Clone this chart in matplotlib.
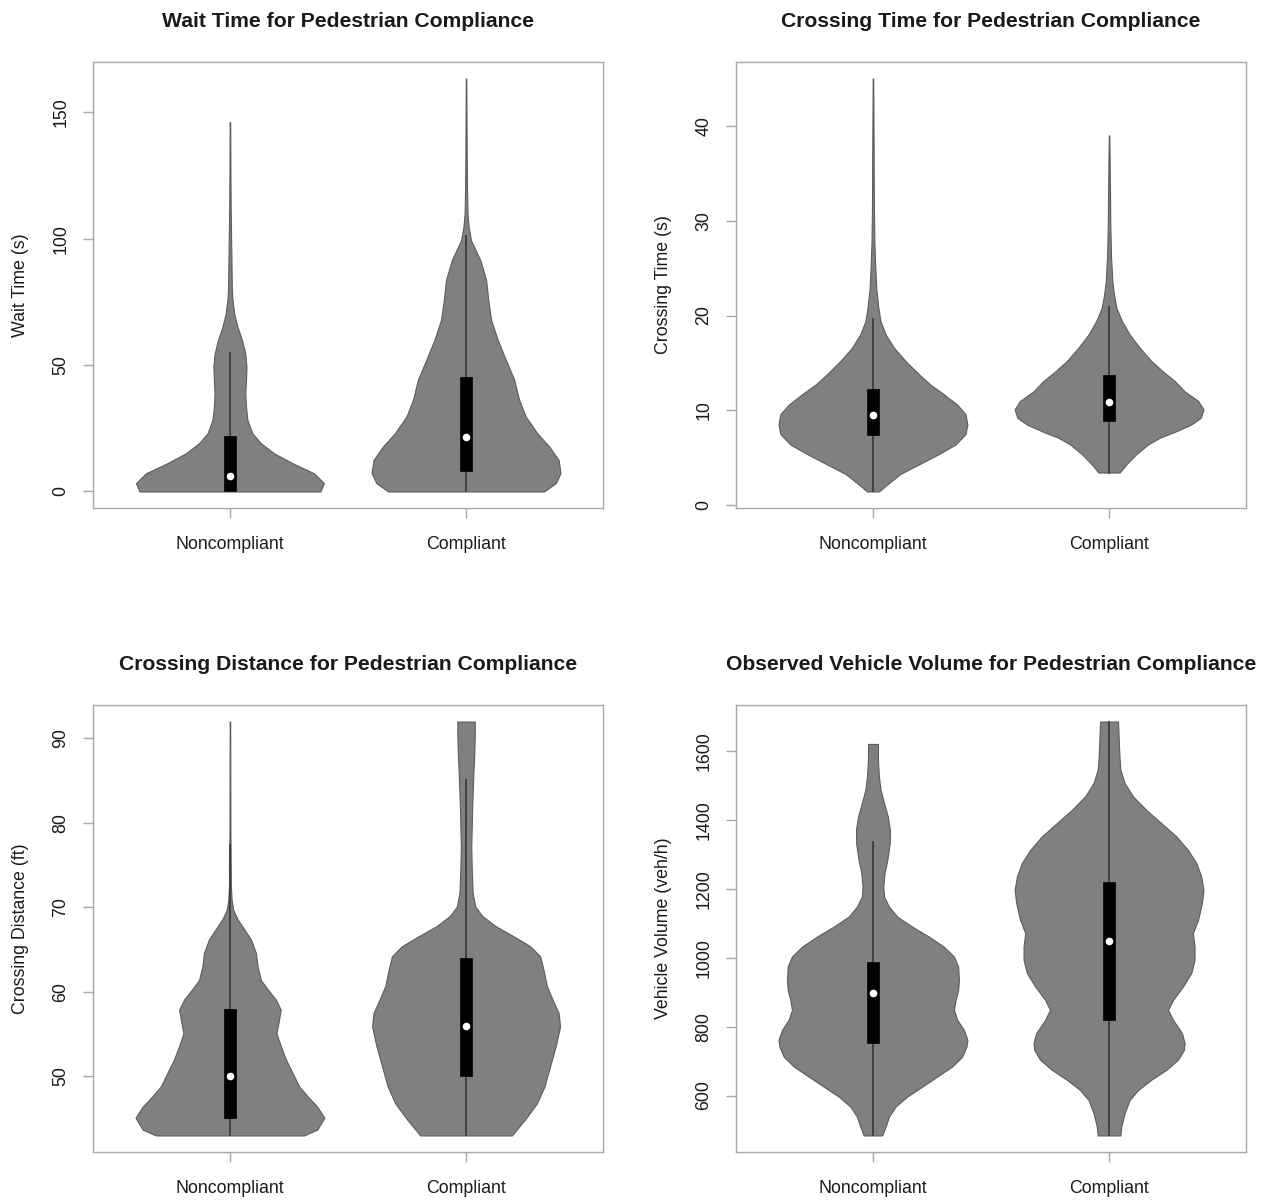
import matplotlib.pyplot as plt
import numpy as np

plt.rcParams['font.family'] = ['Liberation Sans', 'DejaVu Sans']

groups = ["Noncompliant", "Compliant"]

# violin outlines: y value and half width (max 0.4)
wait_nc_y = [0, 3.3, 7.2, 11.2, 15.1, 19.1, 23, 28.3, 33.5, 38.8, 44.1, 49.3, 54.6, 59.9,
             65.1, 70.4, 75.7, 80, 93.5, 106.7, 113, 126.5, 146.2]
wait_nc_w = [0.383, 0.398, 0.356, 0.265, 0.187, 0.131, 0.095, 0.074, 0.068, 0.065, 0.068,
             0.070, 0.065, 0.051, 0.032, 0.018, 0.011, 0.008, 0.006, 0.004, 0.003, 0.002, 0.001]
wait_c_y = [0, 3.3, 7.3, 12.5, 17.8, 23, 29.6, 36.2, 44.2, 52, 60, 67.9, 75.8, 83.7, 91.6,
            99.4, 104.7, 110, 120, 130.4, 146, 163.4]
wait_c_w = [0.33, 0.38, 0.40, 0.392, 0.352, 0.302, 0.253, 0.225, 0.204, 0.169, 0.134, 0.106,
            0.094, 0.085, 0.06, 0.021, 0.011, 0.006, 0.004, 0.003, 0.002, 0.001]

cross_nc_y = [1.44, 2.2, 3.3, 4.3, 5.4, 6.4, 7.5, 8.5, 9.6, 10.6, 11.7, 12.7, 13.8, 15.2,
              16.6, 18, 19.4, 20.8, 22.9, 25, 27.8, 31.7, 37, 45]
cross_nc_w = [0.025, 0.061, 0.117, 0.195, 0.28, 0.35, 0.392, 0.40, 0.392, 0.357, 0.30, 0.244,
              0.195, 0.138, 0.089, 0.054, 0.032, 0.023, 0.014, 0.010, 0.006, 0.004, 0.003, 0.001]
cross_c_y = [3.44, 4.3, 5.4, 6.4, 7.1, 7.8, 8.5, 9.2, 10.1, 11.0, 12.0, 13.1, 14.1, 15.2,
             16.6, 18, 19.4, 20.8, 22.2, 23.6, 26.4, 29.9, 33.4, 39]
cross_c_w = [0.045, 0.073, 0.116, 0.165, 0.214, 0.285, 0.348, 0.388, 0.40, 0.377, 0.32, 0.278,
             0.228, 0.179, 0.13, 0.087, 0.055, 0.031, 0.021, 0.014, 0.008, 0.005, 0.004, 0.001]

dist_nc_y = [43.0, 43.7, 45.1, 46.4, 47.6, 48.8, 50.4, 52, 53.6, 55.1, 56.7, 57.9, 59.1, 60.3,
             61.4, 63, 64.6, 66.2, 67.4, 68.6, 69.7, 70.9, 72.5, 78.8, 92]
dist_nc_w = [0.314, 0.37, 0.40, 0.37, 0.33, 0.293, 0.265, 0.237, 0.215, 0.197, 0.208, 0.215,
             0.194, 0.16, 0.131, 0.117, 0.11, 0.089, 0.061, 0.032, 0.014, 0.007, 0.004,
             0.002, 0.001]
dist_c_y = [43.0, 44.9, 46.8, 48.8, 51.2, 53.6, 55.9, 57.5, 59.1, 60.7, 62.6, 64.2, 65.4, 66.6,
            67.8, 69.0, 70.1, 71.7, 74.5, 77.2, 80.8, 83.6, 85.9, 88.3, 90.7, 92]
dist_c_w = [0.194, 0.25, 0.30, 0.332, 0.356, 0.38, 0.398, 0.392, 0.366, 0.342, 0.328, 0.314,
            0.272, 0.20, 0.124, 0.068, 0.039, 0.028, 0.024, 0.022, 0.025, 0.028, 0.031,
            0.035, 0.037, 0.037]

vol_nc_y = [484, 510, 539, 568, 597, 626, 655, 684, 713, 742, 762, 791, 820, 849, 878, 907,
            936, 975, 1004, 1033, 1062, 1091, 1120, 1149, 1178, 1207, 1246, 1285, 1333, 1372,
            1411, 1450, 1489, 1529, 1577, 1622]
vol_nc_w = [0.039, 0.054, 0.068, 0.096, 0.145, 0.209, 0.272, 0.335, 0.378, 0.396, 0.40, 0.385,
            0.357, 0.343, 0.35, 0.361, 0.364, 0.361, 0.343, 0.30, 0.237, 0.166, 0.103, 0.068,
            0.047, 0.044, 0.049, 0.061, 0.071, 0.072, 0.063, 0.047, 0.032, 0.025, 0.021, 0.021]
vol_c_y = [484, 510, 549, 587, 616, 646, 675, 704, 733, 752, 781, 820, 849, 878, 917, 956, 994,
           1033, 1072, 1111, 1159, 1198, 1237, 1275, 1314, 1353, 1392, 1430, 1469, 1508, 1547,
           1585, 1634, 1687]
vol_c_w = [0.048, 0.052, 0.066, 0.087, 0.123, 0.179, 0.243, 0.292, 0.317, 0.32, 0.309, 0.271,
           0.25, 0.271, 0.313, 0.348, 0.362, 0.362, 0.355, 0.377, 0.393, 0.40, 0.39, 0.37,
           0.334, 0.285, 0.221, 0.158, 0.102, 0.066, 0.048, 0.044, 0.041, 0.038]

# box stats: q1, median, q3, lower whisker, upper whisker
wait_box = [[0, 6.3, 22.0, 0, 54.9], [8.2, 21.7, 45.3, 0, 101]]
cross_box = [[7.37, 9.5, 12.3, 1.44, 19.6], [8.9, 10.9, 13.7, 3.44, 20.9]]
dist_box = [[45.07, 50.0, 58.0, 43.0, 77.4], [50.0, 56.0, 64.0, 43.0, 85.1]]
vol_box = [[754, 897.5, 987, 484, 1338], [820, 1050.6, 1222, 484, 1687]]

titles = ["Wait Time for Pedestrian Compliance", "Crossing Time for Pedestrian Compliance",
          "Crossing Distance for Pedestrian Compliance",
          "Observed Vehicle Volume for Pedestrian Compliance"]
ylabels = ["Wait Time (s)", "Crossing Time (s)", "Crossing Distance (ft)", "Vehicle Volume (veh/h)"]
yticks = [[0, 50, 100, 150], [0, 10, 20, 30, 40], [50, 60, 70, 80, 90],
          [600, 800, 1000, 1200, 1400, 1600]]

panels = [
    ([(wait_nc_y, wait_nc_w), (wait_c_y, wait_c_w)], wait_box),
    ([(cross_nc_y, cross_nc_w), (cross_c_y, cross_c_w)], cross_box),
    ([(dist_nc_y, dist_nc_w), (dist_c_y, dist_c_w)], dist_box),
    ([(vol_nc_y, vol_nc_w), (vol_c_y, vol_c_w)], vol_box),
]

W, H = 1275, 1201
fig = plt.figure(figsize=(W / 100, H / 100), dpi=100)

# axes boxes in pixels: left, top, right, bottom
boxes = [(93, 62, 603, 508), (736, 62, 1246, 508), (93, 705, 603, 1152), (736, 705, 1246, 1152)]

spine_col = "#a8a8a8"
txt_col = "#1a1a1a"

for k, (l, t, r, b) in enumerate(boxes):
    ax = fig.add_axes([l / W, 1 - b / H, (r - l) / W, (b - t) / H])
    violins, stats = panels[k]
    lo = min(min(v[0]) for v in violins)
    hi = max(max(v[0]) for v in violins)
    pad = 0.04 * (hi - lo)

    for i, (vy, vw) in enumerate(violins):
        pos = i + 1
        vy = np.array(vy)
        vw = np.array(vw)
        ax.fill_betweenx(vy, pos - vw, pos + vw, facecolor="#808080",
                         edgecolor="#5c5c5c", linewidth=0.8, zorder=2)
        q1, med, q3, wlo, whi = stats[i]
        ax.plot([pos, pos], [wlo, whi], color="#3c3c3c", linewidth=1.3, zorder=3)
        ax.add_patch(plt.Rectangle((pos - 0.025, q1), 0.05, q3 - q1,
                                   facecolor="black", edgecolor="black", linewidth=0.5, zorder=4))
        ax.plot(pos, med, "o", color="white", markersize=5.5, markeredgewidth=0, zorder=5)

    ax.set_xlim(0.42, 2.58)
    ax.set_ylim(lo - pad, hi + pad)
    ax.set_xticks([1, 2])
    ax.set_xticklabels(groups)
    ax.set_yticks(yticks[k])
    ax.set_yticklabels([str(v) for v in yticks[k]], rotation=90, va="center")

    for s in ax.spines.values():
        s.set_color(spine_col)
        s.set_linewidth(1.0)
    ax.tick_params(axis="both", length=7, width=1.0, color=spine_col, labelsize=12.8,
                   labelcolor=txt_col)
    ax.tick_params(axis="x", pad=13)
    ax.tick_params(axis="y", pad=10)

    ax.set_title(titles[k], fontsize=15.2, fontweight="bold", pad=25, color=txt_col)
    ax.set_ylabel(ylabels[k], fontsize=12.8, color=txt_col, va="center")
    ax.yaxis.set_label_coords(-0.142, 0.5)

fig.savefig("out.png", dpi=100)
